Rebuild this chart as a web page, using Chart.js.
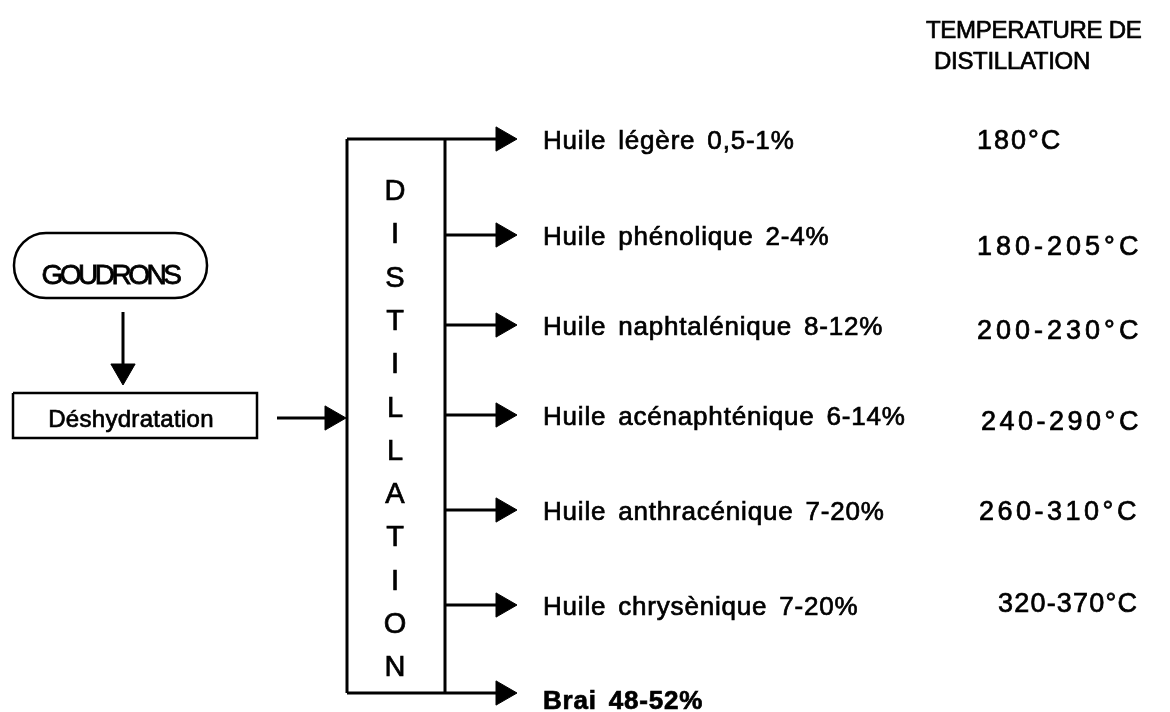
<!DOCTYPE html>
<html>
<head>
<meta charset="utf-8">
<script src="https://cdn.jsdelivr.net/npm/chart.js@4.4.1/dist/chart.umd.min.js"></script>
<style>
  body { margin: 0; background: #fff; }
  #flow { display: block; }
</style>
</head>
<body>
<canvas id="flow" width="1170" height="712"></canvas>
<script>
// ==========================================
// DATA
// ==========================================
const feedSteps = ['GOUDRONS', 'Déshydratation'];
const columnWord = 'DISTILLATION';
const products = ['Huile légère', 'Huile phénolique', 'Huile naphtalénique', 'Huile acénaphténique',
                  'Huile anthracénique', 'Huile chrysènique', 'Brai'];
const shares = ['0,5-1%', '2-4%', '8-12%', '6-14%', '7-20%', '7-20%', '48-52%'];
const temps = ['180°C', '180-205°C', '200-230°C', '240-290°C', '260-310°C', '320-370°C'];
const headerLines = ['TEMPERATURE DE', 'DISTILLATION'];

// ==========================================
// LAYOUT (diagram units = pixels of the 1170x712 page)
// ==========================================
const branchY = [139, 235, 325, 415, 510, 605, 693];   // one outlet per product
const col = { left: 347, right: 445, top: 139, bottom: 693 };
const tip = 14;               // arrowhead point radius
const outletTip = 517;
const tempX = [977, 977, 977, 981, 979, 998];
const tempSpacing = [2, 4, 4, 3.5, 3.5, 1.2];
const tempY = [142, 248, 332, 423, 513, 605];

// line segment helper
function seg(points, w) {
    return {
        data: points.map(p => ({ x: p[0], y: p[1] })),
        showLine: true,
        borderColor: '#000',
        borderWidth: w || 3,
        pointRadius: 0,
        fill: false,
        clip: false
    };
}

// arrowhead as a rotated triangle point
function head(x, y, rotation) {
    return {
        data: [{ x: x, y: y }],
        showLine: false,
        pointStyle: 'triangle',
        pointRadius: tip,
        pointRotation: rotation,
        pointBackgroundColor: '#000',
        pointBorderColor: '#000',
        pointBorderWidth: 1,
        clip: false
    };
}

const datasets = [];

// distillation column (left, top, bottom and the collector on the right)
datasets.push(seg([[col.left, col.top], [col.left, col.bottom]]));
datasets.push(seg([[col.right, col.top], [col.right, col.bottom]]));

// outlets
branchY.forEach((y, i) => {
    const from = (i === 0 || i === branchY.length - 1) ? col.left : col.right;
    datasets.push(seg([[from, y], [outletTip - tip, y]]));
    datasets.push(head(outletTip - tip, y, 90));
});

// GOUDRONS -> Déshydratation
datasets.push(seg([[123, 312], [123, 385 - tip]]));
datasets.push(head(123, 385 - tip, 180));

// Déshydratation box
datasets.push(seg([[13, 393], [257, 393], [257, 438], [13, 438], [13, 393]], 2.5));

// Déshydratation -> column
datasets.push(seg([[277, 418], [346 - tip, 418]]));
datasets.push(head(346 - tip, 418, 90));

// draw text slightly heavier, like the scanned original
function ink(ctx, text, x, y) {
    ctx.fillText(text, x, y);
    ctx.strokeText(text, x, y);
}

// ==========================================
// TEXT + ROUNDED BOX PLUGIN
// ==========================================
const labelsPlugin = {
    id: 'flowLabels',
    afterDatasetsDraw(chart) {
        const ctx = chart.ctx;
        const X = v => chart.scales.x.getPixelForValue(v);
        const Y = v => chart.scales.y.getPixelForValue(v);
        ctx.save();
        ctx.fillStyle = '#000';
        ctx.strokeStyle = '#000';
        ctx.textBaseline = 'middle';

        // GOUDRONS pill
        ctx.lineWidth = 2.5;
        ctx.beginPath();
        ctx.roundRect(X(14), Y(233), X(207) - X(14), Y(298) - Y(233), 32);
        ctx.stroke();

        ctx.lineWidth = 0.8;
        ctx.font = '28px "Liberation Sans", Arial, sans-serif';
        ctx.letterSpacing = '-3.5px';
        ctx.textAlign = 'center';
        ink(ctx, feedSteps[0], X(110), Y(276));

        ctx.lineWidth = 0.7;
        ctx.letterSpacing = '0.3px';
        ctx.font = '24px "Liberation Sans", Arial, sans-serif';
        ink(ctx, feedSteps[1], X(131), Y(420));

        // vertical word in the column
        ctx.font = '29px "Liberation Sans", Arial, sans-serif';
        ctx.letterSpacing = '0px';
        columnWord.split('').forEach((ch, i) => {
            ink(ctx, ch, X(395), Y(192 + i * 43.3));
        });

        // product labels
        ctx.textAlign = 'left';
        ctx.letterSpacing = '0.8px';
        ctx.wordSpacing = '4px';
        products.forEach((name, i) => {
            const last = i === products.length - 1;
            ctx.font = (last ? 'bold ' : '') + '26px "Liberation Sans", Arial, sans-serif';
            const y = branchY[i] + (last ? 9 : 3);
            ink(ctx, name + ' ' + shares[i], X(543), Y(y));
        });
        ctx.wordSpacing = '0px';

        // temperatures
        ctx.font = '27px "Liberation Sans", Arial, sans-serif';
        temps.forEach((t, i) => {
            ctx.letterSpacing = tempSpacing[i] + 'px';
            ink(ctx, t, X(tempX[i]), Y(tempY[i]));
        });

        // header
        ctx.font = '24px "Liberation Sans", Arial, sans-serif';
        ctx.letterSpacing = '-0.3px';
        ctx.textBaseline = 'alphabetic';
        ink(ctx, headerLines[0], X(926), Y(38));
        ink(ctx, headerLines[1], X(934), Y(69));

        ctx.restore();
    }
};

new Chart(document.getElementById('flow'), {
    type: 'scatter',
    data: { datasets: datasets },
    options: {
        responsive: false,
        animation: false,
        devicePixelRatio: 1,
        layout: { padding: 0, autoPadding: false },
        scales: {
            x: { type: 'linear', min: 0, max: 1170, display: false },
            y: { type: 'linear', min: 0, max: 712, reverse: true, display: false }
        },
        plugins: {
            legend: { display: false },
            tooltip: { enabled: false }
        }
    },
    plugins: [labelsPlugin]
});
</script>
</body>
</html>
